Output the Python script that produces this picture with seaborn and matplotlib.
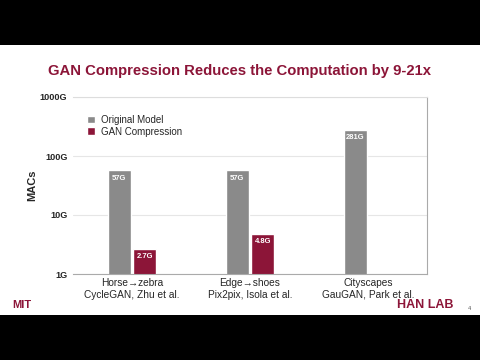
import matplotlib
matplotlib.use("Agg")
import matplotlib.pyplot as plt
import numpy as np
import pandas as pd
import seaborn as sns
from matplotlib.patches import Rectangle

tasks = ["Horse\u2192zebra\nCycleGAN, Zhu et al.",
         "Edge\u2192shoes\nPix2pix, Isola et al.",
         "Cityscapes\nGauGAN, Park et al."]
original_macs = [57, 57, 281]
compressed_macs = [2.7, 4.8, np.nan]
models = ["Original Model", "GAN Compression"]
y_ticks = [1, 10, 100, 1000]
y_tick_labels = ["1G", "10G", "100G", "1000G"]

RED = "#8c1538"
GRAY = "#8a8a8a"

sns.set_style("white")
plt.rcParams["font.family"] = ["Liberation Sans", "DejaVu Sans"]

df = pd.DataFrame({
    "task": tasks * 2,
    "model": [models[0]] * 3 + [models[1]] * 3,
    "macs": original_macs + compressed_macs,
})

fig = plt.figure(figsize=(4.8, 3.6), dpi=100, facecolor="black")
# white slide area between the black letterbox bands
fig.patches.append(Rectangle((0, 45 / 360), 1, 270 / 360, transform=fig.transFigure,
                             facecolor="white", edgecolor="none", zorder=-5))

fig.text(0.5, 1 - 71 / 360, "GAN Compression Reduces the Computation by 9-21x",
         ha="center", va="center", color=RED, fontsize=10.7, fontweight="bold")

ax = fig.add_axes([73 / 480, 1 - 274 / 360, 354 / 480, 177 / 360])
ax.set_facecolor("white")
ax.set_yscale("log")
sns.barplot(data=df, x="task", y="macs", hue="model", palette=[GRAY, RED],
            width=0.43, gap=0.08, ax=ax, saturation=1)
ax.set_ylim(1, 1000)
ax.set_yticks(y_ticks)
ax.set_yticklabels(y_tick_labels, fontsize=6.6, fontweight="bold")
ax.minorticks_off()
ax.tick_params(axis="y", length=0, pad=4)
ax.tick_params(axis="x", length=0, pad=3, labelsize=7.3)
ax.set_xlabel("")
ax.set_ylabel("MACs", fontsize=8, fontweight="bold", labelpad=2)
ax.grid(axis="y", color="#e6e6e6", linewidth=0.8)
ax.set_axisbelow(True)

for container in ax.containers:
    ax.bar_label(container, fmt=lambda v: f"{v:g}G", label_type="edge", padding=-8,
                 fontsize=5.5, color="white", fontweight="bold")

ax.spines["left"].set_visible(False)
ax.spines["top"].set_color("#dddddd")
ax.spines["right"].set_color("#aaaaaa")
ax.spines["bottom"].set_color("#aaaaaa")

ax.legend(loc="upper left", bbox_to_anchor=(0.015, 0.95), frameon=False,
          fontsize=7, handlelength=0.8, handleheight=0.8, handletextpad=0.6,
          labelspacing=0.2)

# footer logos
fig.text(12 / 480, 1 - 305 / 360, "MIT", color=RED, fontsize=8, fontweight="bold",
         ha="left", va="center")
fig.text(397 / 480, 1 - 305.5 / 360, "HAN LAB", color=RED, fontsize=9, fontweight="bold",
         ha="left", va="center")
fig.text(468 / 480, 1 - 309 / 360, "4", color="#555555", fontsize=4, ha="left", va="center")

fig.savefig("out.png", dpi=100, facecolor="black")
